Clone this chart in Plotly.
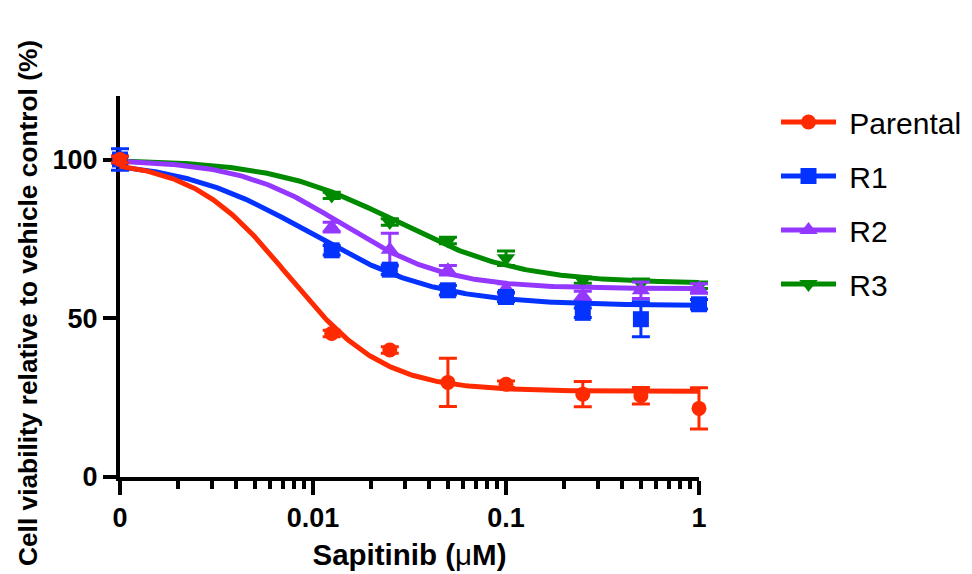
import numpy as np
import plotly.graph_objects as go

# Sapitinib concentrations (uM); 0 = vehicle control
conc = [0, 0.0125, 0.025, 0.05, 0.1, 0.25, 0.5, 1]

# Mean viability (%) and SD for each cell line
parental_mean = [100, 45.2, 40.0, 29.8, 29.2, 26.1, 25.6, 21.6]
parental_sd = [1.0, 1.0, 1.0, 7.6, 1.0, 4.0, 2.6, 6.5]
r1_mean = [100, 71.4, 65.3, 58.8, 56.7, 51.7, 49.7, 54.4]
r1_sd = [3.4, 1.5, 1.5, 1.5, 1.5, 1.5, 5.5, 1.5]
r2_mean = [100, 78.7, 71.6, 65.1, 59.4, 57.0, 58.8, 59.4]
r2_sd = [1.0, 1.5, 5.2, 1.5, 1.5, 1.5, 2.6, 1.5]
r3_mean = [100, 88.7, 80.3, 74.5, 68.9, 62.0, 61.0, 60.4]
r3_sd = [1.0, 1.0, 1.0, 1.0, 2.3, 1.0, 1.4, 1.0]

# Four-parameter logistic fit results: top, bottom, logIC50, Hill slope
fit_params = {
    "Parental": (100, 27.0, -2.13, 1.75),
    "R1": (100, 54.0, -2.02, 1.3),
    "R2": (100, 59.3, -1.85, 1.6),
    "R3": (100, 61.0, -1.57, 1.35),
}

x_tick_vals = [0.001, 0.01, 0.1, 1]
x_tick_text = ["0", "0.01", "0.1", "1"]
y_tick_vals = [0, 50, 100]

names = ["Parental", "R1", "R2", "R3"]
means = [parental_mean, r1_mean, r2_mean, r3_mean]
sds = [parental_sd, r1_sd, r2_sd, r3_sd]
colors = ["#FF2A00", "#0433FF", "#9437FF", "#008A00"]
symbols = ["circle", "square", "triangle-up", "triangle-down"]
sizes = [15, 16, 16, 16]

# the log axis starts at 0.001, where the vehicle control (0) is placed
ZERO_POS = 0.001
x_plot = [ZERO_POS if c == 0 else c for c in conc]
x_curve = np.logspace(-3, 0, 300)

FONT = "Liberation Sans, Arial, Helvetica, sans-serif"

# layout geometry: the data axis (x2) is a little wider than the drawn
# axis (x) so markers and error bars at both ends are not clipped
W, H = 972, 574
M_L, M_R, M_T, M_B = 100, 253, 96, 97
PAD = 20
plot_w = W - M_L - M_R
plot_h = H - M_T - M_B
decade_px = (plot_w - 2 * PAD) / 3
ext = PAD / decade_px

fig = go.Figure()

# legend entries (line + marker), in display order; they live on the
# drawn axes so that the x/y subplot (and its axis lines) is created
for i, name in enumerate(names):
    fig.add_trace(go.Scatter(
        x=[None], y=[None], mode="lines+markers", name="\u00a0" + name,
        legendgroup=name, xaxis="x", yaxis="y",
        line=dict(color=colors[i], width=5),
        marker=dict(symbol=symbols[i], size=sizes[i], color=colors[i]),
    ))

# curves and points, drawn so that Parental ends up on top
for i in reversed(range(len(names))):
    name = names[i]
    top, bottom, log_ic50, hill = fit_params[name]
    y_curve = bottom + (top - bottom) / (1 + 10 ** ((np.log10(x_curve) - log_ic50) * hill))
    fig.add_trace(go.Scatter(
        x=x_curve, y=y_curve, mode="lines", showlegend=False,
        legendgroup=name, hoverinfo="skip", xaxis="x2", yaxis="y",
        line=dict(color=colors[i], width=5),
    ))
    fig.add_trace(go.Scatter(
        x=x_plot, y=means[i], mode="markers", showlegend=False,
        legendgroup=name, name=name, cliponaxis=False, xaxis="x2", yaxis="y",
        marker=dict(symbol=symbols[i], size=sizes[i], color=colors[i],
                    line=dict(width=0)),
        error_y=dict(type="data", array=sds[i], visible=True,
                     color=colors[i], thickness=3, width=9),
    ))

minor_vals = [m * 10 ** e for e in (-3, -2, -1) for m in range(2, 10)]

axis_common = dict(
    showline=True, linewidth=4, linecolor="black",
    ticks="outside", tickwidth=4, tickcolor="black",
    showgrid=False, zeroline=False,
    tickfont=dict(family=FONT, size=27, color="black", weight="bold"),
)

fig.update_layout(
    xaxis=dict(
        type="log", range=[-3, 0],
        domain=[PAD / plot_w, 1 - PAD / plot_w],
        tickmode="array", tickvals=x_tick_vals, ticktext=x_tick_text,
        ticklen=14,
        minor=dict(tickmode="array", tickvals=minor_vals, ticks="outside",
                   ticklen=8, tickwidth=4, tickcolor="black", showgrid=False),
        title=dict(text="Sapitinib (<span style='font-weight:normal'>\u03bc</span>M)",
                   font=dict(family=FONT, size=29.5, color="black", weight="bold"),
                   standoff=13),
        **axis_common,
    ),
    xaxis2=dict(
        type="log", range=[-3 - ext, ext], domain=[0, 1],
        anchor="y", visible=False,
        showgrid=False, zeroline=False,
    ),
    yaxis=dict(
        range=[0, 120], anchor="x",
        tickmode="array", tickvals=y_tick_vals, ticklen=13,
        **axis_common,
    ),
)

# vertical y-axis title
fig.add_annotation(
    text="Cell viability relative to vehicle control (%)",
    xref="paper", yref="paper",
    x=(28 - M_L) / plot_w, y=(H - M_B - 303) / plot_h,
    xanchor="center", yanchor="middle", textangle=-90, showarrow=False,
    font=dict(family=FONT, size=26.3, color="black", weight="bold"),
)

fig.update_layout(
    width=W, height=H,
    margin=dict(l=M_L, r=M_R, t=M_T, b=M_B, autoexpand=False),
    plot_bgcolor="rgba(0,0,0,0)", paper_bgcolor="white",
    font=dict(family=FONT, color="black"),
    showlegend=True,
    legend=dict(
        x=(776 - M_L) / plot_w, y=1.0, xanchor="left", yanchor="top",
        font=dict(family=FONT, size=30, color="black"),
        itemwidth=55, tracegroupgap=12, bgcolor="rgba(0,0,0,0)",
    ),
)

fig.write_html("out.html")
